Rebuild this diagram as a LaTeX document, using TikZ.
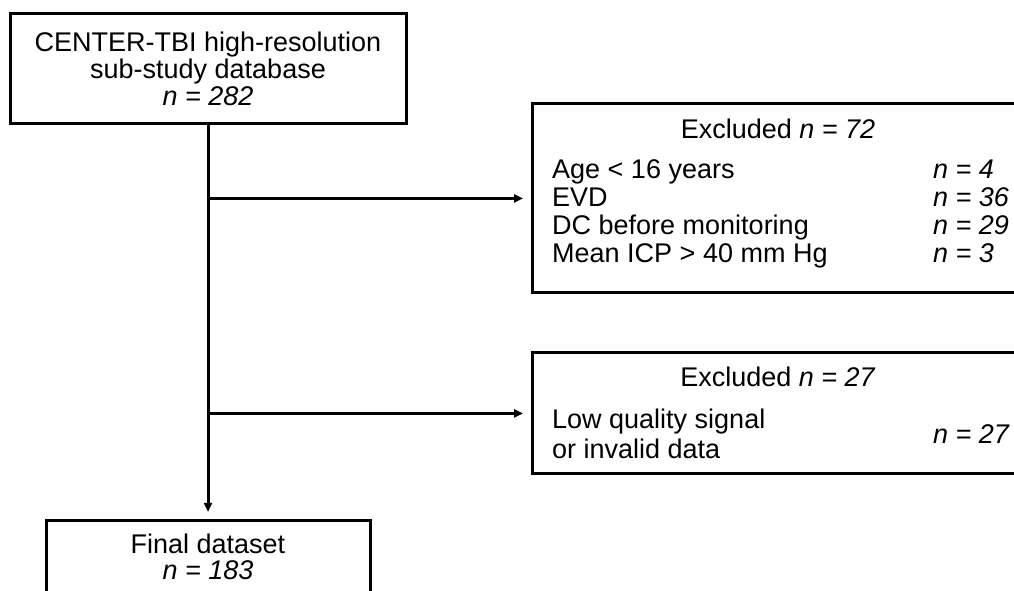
\documentclass[tikz,border=0pt]{standalone}
\usepackage{fontspec}
\setmainfont{Liberation Sans}
\usetikzlibrary{arrows.meta}
\begin{document}
\begin{tikzpicture}[x=1pt,y=1pt,
  box/.style={draw,line width=3pt,inner sep=0pt,outer sep=0pt},
  txt/.style={inner sep=0pt,font=\fontsize{27}{27}\selectfont},
  link/.style={line width=3pt,-{Triangle[length=9pt,width=8pt]}}]
\useasboundingbox (0,0) rectangle (1014,591);
\clip (0,0) rectangle (1014,591);
\fill[white] (0,0) rectangle (1014,591);

% boxes
\node[box,minimum width=396pt,minimum height=110pt] (db) at (208,522) {};
\node[box,minimum width=488pt,minimum height=189pt] (ex1) at (776,392.5) {};
\node[box,minimum width=488pt,minimum height=121pt] (ex2) at (776,177.5) {};
\node[box,minimum width=324pt,minimum height=79pt] (fin) at (208,30.5) {};

% source database
\node[txt,anchor=base] (db1) at (208,539) {CENTER-TBI high-resolution};
\node[txt,anchor=base] (db2) at (208,512) {sub-study database};
\node[txt,anchor=base] (db3) at (208,485) {\textit{n = 282}};

% first exclusion step
\node[txt,anchor=base] (e1t) at (778,452) {Excluded \textit{n = 72}};
\node[txt,anchor=base west] (e1a) at (552,412) {Age < 16 years};
\node[txt,anchor=base west] (e1b) at (552,384) {EVD};
\node[txt,anchor=base west] (e1c) at (552,356) {DC before monitoring};
\node[txt,anchor=base west] (e1d) at (552,328) {Mean ICP > 40 mm Hg};
\node[txt,anchor=base west] (n1a) at (933,412) {\textit{n = 4}};
\node[txt,anchor=base west] (n1b) at (933,384) {\textit{n = 36}};
\node[txt,anchor=base west] (n1c) at (933,356) {\textit{n = 29}};
\node[txt,anchor=base west] (n1d) at (933,328) {\textit{n = 3}};

% second exclusion step
\node[txt,anchor=base] (e2t) at (778,204.5) {Excluded \textit{n = 27}};
\node[txt,anchor=base west] (e2a) at (552,162) {Low quality signal};
\node[txt,anchor=base west] (e2b) at (552,132) {or invalid data};
\node[txt,anchor=base west] (n2a) at (933,147) {\textit{n = 27}};

% final dataset
\node[txt,anchor=base] (f1) at (208,37) {Final dataset};
\node[txt,anchor=base] (f2) at (208,11) {\textit{n = 183}};

% flow
\draw[link,shorten >=9pt] (db.south) -- (fin.north);
\draw[link,shorten >=9pt] (db.south |- ex1.west) -- (ex1.west);
\draw[link,shorten >=9pt] (db.south |- ex2.west) -- (ex2.west);
\end{tikzpicture}
\end{document}
